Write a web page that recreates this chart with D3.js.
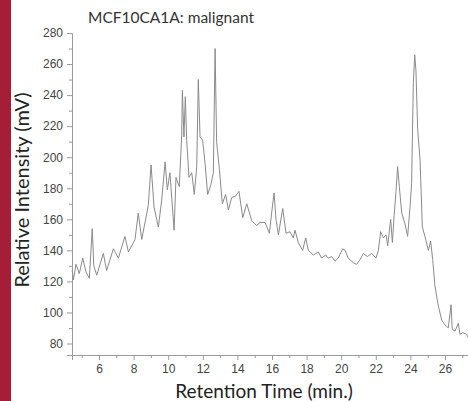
<!DOCTYPE html>
<html>
<head>
<meta charset="utf-8">
<script src="https://cdn.jsdelivr.net/npm/d3@7/dist/d3.min.js"></script>
<style>
  html, body { margin: 0; padding: 0; background: #fff; }
  svg { display: block; }
</style>
</head>
<body>
<svg id="chart" width="468" height="401"></svg>
<script>
// Chromatogram of MCF10CA1A (malignant) sample
const retentionTime = [
  4.45, 4.52, 4.67, 4.86, 5.06, 5.25, 5.44, 5.61, 5.70, 5.87,
  6.25, 6.44, 6.83, 7.12, 7.50, 7.70, 8.08, 8.27, 8.47, 8.85,
  9.01, 9.18, 9.43, 9.62, 9.82, 9.95, 10.10, 10.34, 10.45, 10.64,
  10.78, 10.82, 10.91, 10.99, 11.07, 11.20, 11.36, 11.51, 11.65, 11.74,
  11.84, 11.99, 12.13, 12.28, 12.46, 12.61, 12.71, 12.80, 12.96, 13.13,
  13.32, 13.48, 13.67, 13.90, 14.09, 14.31, 14.54, 14.83, 15.11, 15.31,
  15.60, 15.85, 16.00, 16.12, 16.23, 16.37, 16.62, 16.81, 17.04, 17.23,
  17.33, 17.52, 17.77, 17.95, 18.10, 18.39, 18.68, 18.87, 19.10, 19.26,
  19.45, 19.64, 19.83, 20.09, 20.22, 20.41, 20.70, 20.89, 21.09, 21.28,
  21.51, 21.76, 22.01, 22.15, 22.28, 22.44, 22.59, 22.69, 22.86, 22.96,
  23.07, 23.17, 23.26, 23.36, 23.50, 23.69, 23.84, 23.98, 24.07, 24.17,
  24.25, 24.32, 24.42, 24.56, 24.69, 24.84, 25.04, 25.17, 25.29, 25.42,
  25.62, 25.81, 26.00, 26.19, 26.35, 26.42, 26.58, 26.77, 26.87, 27.02,
  27.25, 27.33
];
const intensity = [
  127, 121, 131, 125, 135, 126, 122, 154, 130, 124,
  138, 127, 141, 135, 149, 139, 147, 164, 147, 169,
  195, 168, 155, 172, 197, 179, 190, 153, 187, 181,
  214, 243, 213, 239, 211, 187, 190, 176, 194, 250,
  213, 211, 196, 176, 182, 190, 270, 210, 192, 170,
  176, 166, 174, 175, 178, 161, 170, 159, 156, 158,
  158, 151, 166, 177, 160, 150, 167, 151, 152, 148,
  153, 145, 140, 148, 140, 137, 139, 135, 137, 135,
  136, 133, 135, 141, 140, 135, 132, 131, 134, 138,
  136, 138, 135, 140, 152, 148, 150, 143, 160, 145,
  164, 178, 194, 181, 164, 157, 149, 168, 183, 248,
  266, 256, 218, 198, 155, 149, 140, 146, 134, 117,
  104, 95, 92, 90, 105, 89, 88, 93, 86, 87,
  86, 84
];

const xMajorTicks = [6, 8, 10, 12, 14, 16, 18, 20, 22, 24, 26];
const xMinorTicks = [5, 7, 9, 11, 13, 15, 17, 19, 21, 23, 25, 27];
const yMajorTicks = [80, 100, 120, 140, 160, 180, 200, 220, 240, 260, 280];
const yMinorTicks = [90, 110, 130, 150, 170, 190, 210, 230, 250, 270];

const titleText = "MCF10CA1A: malignant";
const xTitle = "Retention Time (min.)";
const yTitle = "Relative Intensity (mV)";

const svg = d3.select("#chart");
const W = 468, H = 401;
const plot = { left: 72, right: 468, top: 33, bottom: 355 };

// left accent band
svg.append("rect")
  .attr("x", 0).attr("y", 0).attr("width", 11).attr("height", H)
  .attr("fill", "#a51d37");

const x = d3.scaleLinear().domain([4.439, 27.33]).range([plot.left, plot.right]);
const y = d3.scaleLinear().domain([72.6, 280]).range([plot.bottom, plot.top]);

const axisColor = "#9a9a9a";
const labelColor = "#444";
const tickFont = "'Liberation Sans', Arial, sans-serif";
const titleFont = "Lato, 'Open Sans', sans-serif";

// x axis: labelled major ticks, short minor ticks
const gx = svg.append("g").attr("transform", `translate(0,${plot.bottom})`);
gx.call(d3.axisBottom(x).tickValues(xMajorTicks).tickSize(5).tickPadding(4).tickFormat(d3.format("d")));
gx.append("g").call(d3.axisBottom(x).tickValues(xMinorTicks).tickSize(3).tickFormat(""))
  .select(".domain").remove();

// y axis
const gy = svg.append("g").attr("transform", `translate(${plot.left},0)`);
gy.call(d3.axisLeft(y).tickValues(yMajorTicks).tickSize(5).tickPadding(4).tickFormat(d3.format("d")));
gy.append("g").call(d3.axisLeft(y).tickValues(yMinorTicks).tickSize(3).tickFormat(""))
  .select(".domain").remove();

svg.selectAll(".domain").attr("stroke", axisColor).attr("stroke-width", 1);
svg.selectAll(".tick line").attr("stroke", axisColor);
svg.selectAll(".tick text")
  .attr("fill", labelColor)
  .style("font-family", tickFont)
  .style("font-size", "12px");

// chromatogram trace
const pts = retentionTime.map((t, i) => [t, intensity[i]]);
svg.append("path")
  .datum(pts)
  .attr("fill", "none")
  .attr("stroke", "#8a8a8a")
  .attr("stroke-width", 1)
  .attr("stroke-linejoin", "round")
  .attr("d", d3.line().x(d => x(d[0])).y(d => y(d[1])));

// titles
svg.append("text")
  .attr("x", 88).attr("y", 23)
  .attr("fill", "#333")
  .style("font-family", titleFont)
  .style("font-size", "15.5px")
  .text(titleText);

svg.append("text")
  .attr("x", 264).attr("y", 398)
  .attr("text-anchor", "middle")
  .attr("fill", "#222")
  .style("font-family", titleFont)
  .style("font-size", "19px")
  .text(xTitle);

svg.append("text")
  .attr("transform", "translate(29,190) rotate(-90)")
  .attr("text-anchor", "middle")
  .attr("fill", "#222")
  .style("font-family", titleFont)
  .style("font-size", "20px")
  .text(yTitle);
</script>
</body>
</html>
